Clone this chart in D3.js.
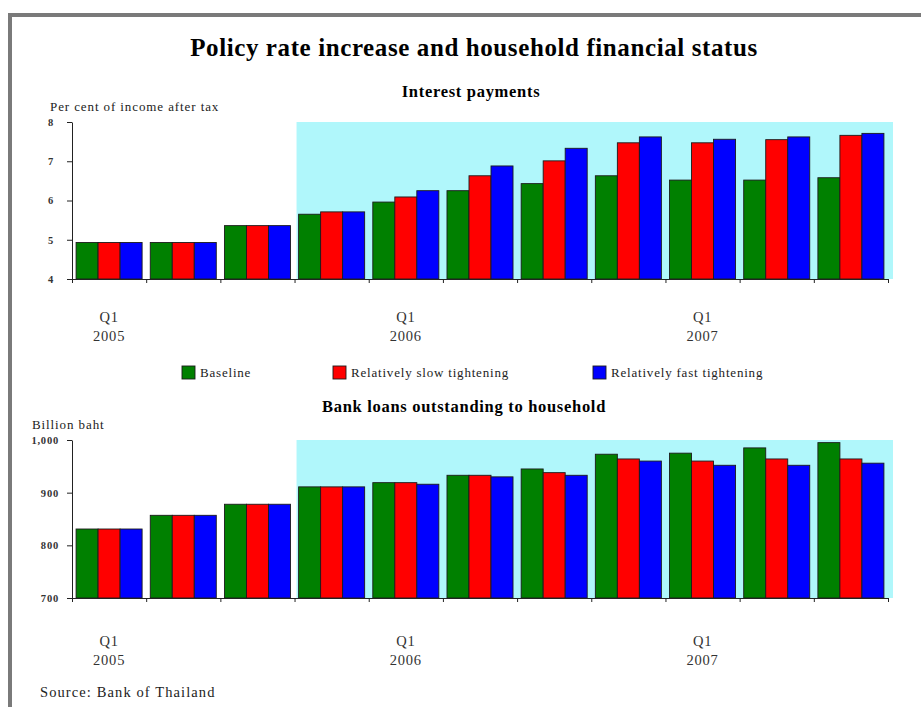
<!DOCTYPE html>
<html>
<head>
<meta charset="utf-8">
<script src="https://cdn.jsdelivr.net/npm/d3@7"></script>
<style>
  body { margin: 0; background: #fff; }
  svg { display: block; font-family: "Liberation Serif", "Times New Roman", serif; }
</style>
</head>
<body>
<svg id="chart" width="921" height="707"></svg>
<script>
// quarters 2005Q1 .. 2007Q3
const quarters = ["2005Q1","2005Q2","2005Q3","2005Q4","2006Q1","2006Q2","2006Q3","2006Q4","2007Q1","2007Q2","2007Q3"];
const yearLabels = [{q: "2005Q1", year: "2005"}, {q: "2006Q1", year: "2006"}, {q: "2007Q1", year: "2007"}];
const seriesKeys = ["baseline", "slow", "fast"];
const seriesNames = ["Baseline", "Relatively slow tightening", "Relatively fast tightening"];
const seriesColors = ["#008000", "#ff0000", "#0000ff"];

// interest payments, per cent of income after tax
const interestBaseline = [4.93, 4.93, 5.36, 5.65, 5.96, 6.25, 6.43, 6.63, 6.52, 6.52, 6.58];
const interestSlow     = [4.93, 4.93, 5.36, 5.71, 6.09, 6.63, 7.01, 7.47, 7.47, 7.55, 7.66];
const interestFast     = [4.93, 4.93, 5.36, 5.71, 6.25, 6.88, 7.33, 7.62, 7.56, 7.62, 7.71];
const interestTicks = [4, 5, 6, 7, 8];

// bank loans outstanding to household, billion baht
const loansBaseline = [831, 857, 878, 911, 919, 933, 945, 973, 975, 985, 995];
const loansSlow     = [831, 857, 878, 911, 919, 933, 938, 964, 960, 964, 964];
const loansFast     = [831, 857, 878, 911, 916, 930, 933, 960, 952, 952, 956];
const loansTicks = [700, 800, 900, 1000];

const projectionStart = "2005Q4";

const svg = d3.select("#chart");

// gray frame (only top/left edges visible)
svg.append("rect")
    .attr("x", 10).attr("y", 15)
    .attr("width", 1000).attr("height", 1000)
    .attr("fill", "none")
    .attr("stroke", "#7a7a7a")
    .attr("stroke-width", 4);

svg.append("text")
    .attr("x", 474).attr("y", 56)
    .attr("text-anchor", "middle")
    .attr("font-weight", "bold")
    .attr("font-size", 25)
    .attr("letter-spacing", 0.6)
    .text("Policy rate increase and household financial status");

const x0 = d3.scaleBand()
    .domain(quarters)
    .range([72, 888])
    .paddingInner(0.11)
    .paddingOuter(0.055);

const x1 = d3.scaleBand()
    .domain(seriesKeys)
    .range([0, x0.bandwidth()]);

const color = d3.scaleOrdinal().domain(seriesKeys).range(seriesColors);

// tick positions at category boundaries
const xEdge = d3.scaleLinear().domain([0, quarters.length]).range([72, 888]);

function panel(cfg){
    const y = d3.scaleLinear()
        .domain(cfg.domain)
        .range([cfg.bottom, cfg.top]);

    const data = quarters.map((q, i) => ({
        q: q,
        baseline: cfg.values[0][i],
        slow: cfg.values[1][i],
        fast: cfg.values[2][i]
    }));

    // subtitle and unit label
    svg.append("text")
        .attr("x", cfg.subX).attr("y", cfg.subY)
        .attr("text-anchor", "middle")
        .attr("font-weight", "bold")
        .attr("font-size", 16.5)
        .attr("letter-spacing", 0.7)
        .text(cfg.subtitle);

    svg.append("text")
        .attr("x", cfg.unitX).attr("y", cfg.unitY)
        .attr("font-size", 13)
        .attr("letter-spacing", 0.9)
        .attr("fill", "#222")
        .text(cfg.unit);

    // shaded projection area
    const sx = xEdge(quarters.indexOf(projectionStart)) + 2;
    svg.append("rect")
        .attr("x", sx)
        .attr("y", y(cfg.domain[1]))
        .attr("width", xEdge.range()[1] + 5 - sx)
        .attr("height", y(cfg.domain[0]) - y(cfg.domain[1]))
        .attr("fill", "#b0f7fb");

    svg.append("g")
        .selectAll("g")
        .data(data)
        .enter()
        .append("g")
        .attr("transform", d => "translate(" + x0(d.q) + ",0)")
        .selectAll("rect")
        .data(d => seriesKeys.map(k => ({key: k, value: d[k]})))
        .enter()
        .append("rect")
        .attr("x", d => x1(d.key))
        .attr("y", d => y(d.value))
        .attr("width", x1.bandwidth())
        .attr("height", d => y(cfg.domain[0]) - y(d.value))
        .attr("fill", d => color(d.key))
        .attr("stroke", "#1b1b1b")
        .attr("stroke-width", 0.9);

    const yAxis = svg.append("g")
        .attr("transform", "translate(72,0)")
        .call(d3.axisLeft(y)
            .tickValues(cfg.ticks)
            .tickFormat(cfg.format)
            .tickSize(5)
            .tickPadding(cfg.tickPad)
            .tickSizeOuter(0));
    yAxis.selectAll("text")
        .attr("font-family", "Liberation Serif, serif")
        .attr("font-size", 10.5)
        .attr("letter-spacing", 0.8)
        .attr("font-weight", "bold")
        .attr("fill", "#333");
    yAxis.selectAll("line, path").attr("stroke", "#222");

    const xAxis = svg.append("g")
        .attr("transform", "translate(0," + cfg.bottom + ")")
        .call(d3.axisBottom(xEdge)
            .ticks(quarters.length)
            .tickFormat("")
            .tickSize(4)
            .tickSizeOuter(0));
    xAxis.selectAll("line, path").attr("stroke", "#222");

    const lab = svg.append("g")
        .selectAll("text")
        .data(yearLabels)
        .enter()
        .append("text")
        .attr("x", d => x0(d.q) + x0.bandwidth() / 2)
        .attr("y", cfg.bottom + cfg.labelOffset)
        .attr("text-anchor", "middle")
        .attr("font-size", 14.5)
        .attr("letter-spacing", 0.8)
        .attr("fill", "#333");
    lab.append("tspan").text("Q1");
    lab.append("tspan")
        .attr("x", d => x0(d.q) + x0.bandwidth() / 2)
        .attr("dy", 19)
        .text(d => d.year);
}

panel({
    subtitle: "Interest payments",
    subX: 471, subY: 97,
    unit: "Per cent of income after tax",
    unitX: 50, unitY: 111,
    domain: [4, 8], top: 122, bottom: 279,
    ticks: interestTicks,
    format: d3.format("d"),
    tickPad: 13,
    values: [interestBaseline, interestSlow, interestFast],
    labelOffset: 43
});

panel({
    subtitle: "Bank loans outstanding to household",
    subX: 464, subY: 412,
    unit: "Billion baht",
    unitX: 32, unitY: 429,
    domain: [700, 1000], top: 440, bottom: 598,
    ticks: loansTicks,
    format: d3.format(","),
    tickPad: 8,
    values: [loansBaseline, loansSlow, loansFast],
    labelOffset: 48
});

// legend
const legendX = [182, 333, 593];
const legend = svg.append("g")
    .selectAll("g")
    .data(seriesKeys)
    .enter()
    .append("g")
    .attr("transform", (d, i) => "translate(" + legendX[i] + ",366)");
legend.append("rect")
    .attr("width", 13).attr("height", 13)
    .attr("fill", d => color(d))
    .attr("stroke", "#1b1b1b")
    .attr("stroke-width", 0.9);
legend.append("text")
    .attr("x", 18).attr("y", 11)
    .attr("font-size", 13)
    .attr("letter-spacing", 0.8)
    .attr("fill", "#222")
    .text((d, i) => seriesNames[i]);

svg.append("text")
    .attr("x", 40).attr("y", 697)
    .attr("font-size", 14.5)
    .attr("letter-spacing", 1.1)
    .attr("fill", "#222")
    .text("Source: Bank of Thailand");
</script>
</body>
</html>
